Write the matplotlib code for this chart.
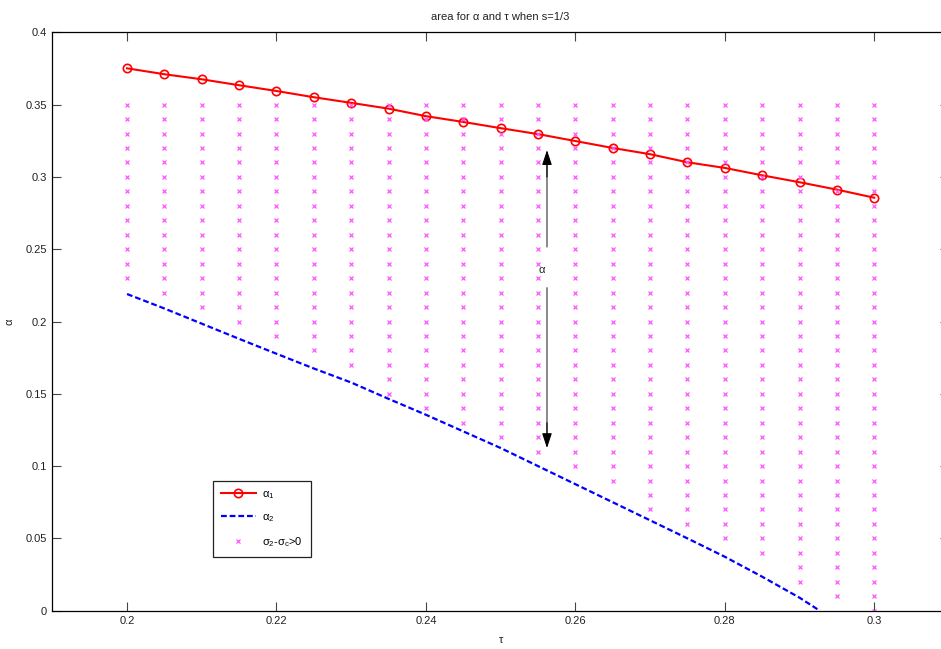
import numpy as np
import matplotlib
matplotlib.use("Agg")
import matplotlib.pyplot as plt

plt.rcParams['font.family'] = ['Liberation Sans', 'DejaVu Sans']
plt.rcParams['mathtext.default'] = 'regular'

# alpha_1 upper curve
tau1 = [0.200, 0.205, 0.210, 0.215, 0.220, 0.225, 0.230, 0.235, 0.240, 0.245, 0.250,
        0.255, 0.260, 0.265, 0.270, 0.275, 0.280, 0.285, 0.290, 0.295, 0.300]
alpha1 = [0.3751, 0.3710, 0.3675, 0.3634, 0.3594, 0.3551, 0.3512, 0.3472, 0.3420, 0.3380, 0.3337,
          0.3296, 0.3248, 0.3200, 0.3157, 0.3101, 0.3062, 0.3011, 0.2963, 0.2912, 0.2856]

# alpha_2 lower curve
tau2 = [0.200, 0.205, 0.210, 0.215, 0.220, 0.225, 0.230, 0.235, 0.240, 0.245,
        0.250, 0.255, 0.260, 0.265, 0.270, 0.275, 0.280, 0.285, 0.290, 0.2927]
alpha2 = [0.219, 0.209, 0.1985, 0.188, 0.1777, 0.1675, 0.1578, 0.1465, 0.1355, 0.1240,
          0.1125, 0.100, 0.0875, 0.0750, 0.0625, 0.0500, 0.0373, 0.0235, 0.0090, 0.0]

# region where sigma_2 - sigma_c > 0: per-tau lower bound, up to 0.35 step 0.01
region_tau = tau1
region_low = [0.23, 0.22, 0.21, 0.20, 0.19, 0.18, 0.17, 0.15, 0.14, 0.13, 0.12,
              0.11, 0.10, 0.09, 0.07, 0.06, 0.05, 0.04, 0.02, 0.01, 0.00]
region_top = 0.35
region_step = 0.01

xticks = [0.2, 0.22, 0.24, 0.26, 0.28, 0.3]
xticklabels = ['0.2', '0.22', '0.24', '0.26', '0.28', '0.3']
yticks = [0, 0.05, 0.1, 0.15, 0.2, 0.25, 0.3, 0.35, 0.4]
yticklabels = ['0', '0.05', '0.1', '0.15', '0.2', '0.25', '0.3', '0.35', '0.4']

sx, sy = [], []
for t, lo in zip(region_tau, region_low):
    n = int(round((region_top - lo) / region_step)) + 1
    for k in range(n):
        sx.append(t)
        sy.append(lo + k * region_step)

fig = plt.figure(figsize=(9.41, 6.49), dpi=100)
ax = fig.add_axes([52.3 / 941, 38.3 / 649, 896.7 / 941, 578.4 / 649])

ax.plot(tau1, alpha1, color='#ff0000', lw=1.5, marker='o', ms=6, mfc='none',
        mec='#ff0000', mew=1.2, label='α$_1$')
ax.plot(tau2, alpha2, color='#0000ff', lw=1.6, linestyle=(0, (2.6, 1.3)), label='α$_2$')
ax.plot(sx, sy, linestyle='none', marker='x', ms=3.4, mew=0.9, color='#ff55ff',
        label='σ$_2$-σ$_c$>0')

# double arrow with label
xa = 0.2562
shaft = dict(arrowstyle='-', color='#808080', lw=1.3, shrinkA=0, shrinkB=0)
head = dict(arrowstyle='-|>,head_length=0.9,head_width=0.3', ec='k', fc='k', lw=0.8,
            shrinkA=0, shrinkB=0)
ax.annotate('', xy=(xa, 0.3150), xytext=(xa, 0.2517), arrowprops=shaft)
ax.annotate('', xy=(xa, 0.3185), xytext=(xa, 0.300), arrowprops=head)
ax.annotate('', xy=(xa, 0.1160), xytext=(xa, 0.2232), arrowprops=shaft)
ax.annotate('', xy=(xa, 0.1125), xytext=(xa, 0.130), arrowprops=head)
ax.text(0.2555, 0.2356, 'α', ha='center', va='center', fontsize=8, color='#222222')

ax.set_xlim(0.19, 0.31)
ax.set_ylim(0, 0.4)
ax.set_xticks(xticks)
ax.set_xticklabels(xticklabels)
ax.set_yticks(yticks)
ax.set_yticklabels(yticklabels)
ax.tick_params(direction='in', length=6.5, width=0.8, color='#444444', labelsize=8,
               labelcolor='#222222', top=True, right=True, pad=4)
for s in ax.spines.values():
    s.set_linewidth(0.9)

ax.set_title('area for α and τ when s=1/3', fontsize=8, color='#222222', pad=9)
ax.set_xlabel('τ', fontsize=8, color='#222222', labelpad=6)
ax.set_ylabel('α', fontsize=8, color='#222222', labelpad=8)

leg = ax.legend(loc='lower left', bbox_to_anchor=(0.179, 0.0934), borderaxespad=0,
                fancybox=False, edgecolor='#222222', framealpha=1, fontsize=8,
                handlelength=3.2, handletextpad=0.55, labelspacing=1.0, borderpad=0.7,
                numpoints=1)
leg.get_frame().set_linewidth(0.9)

fig.savefig('out.png', dpi=100)
